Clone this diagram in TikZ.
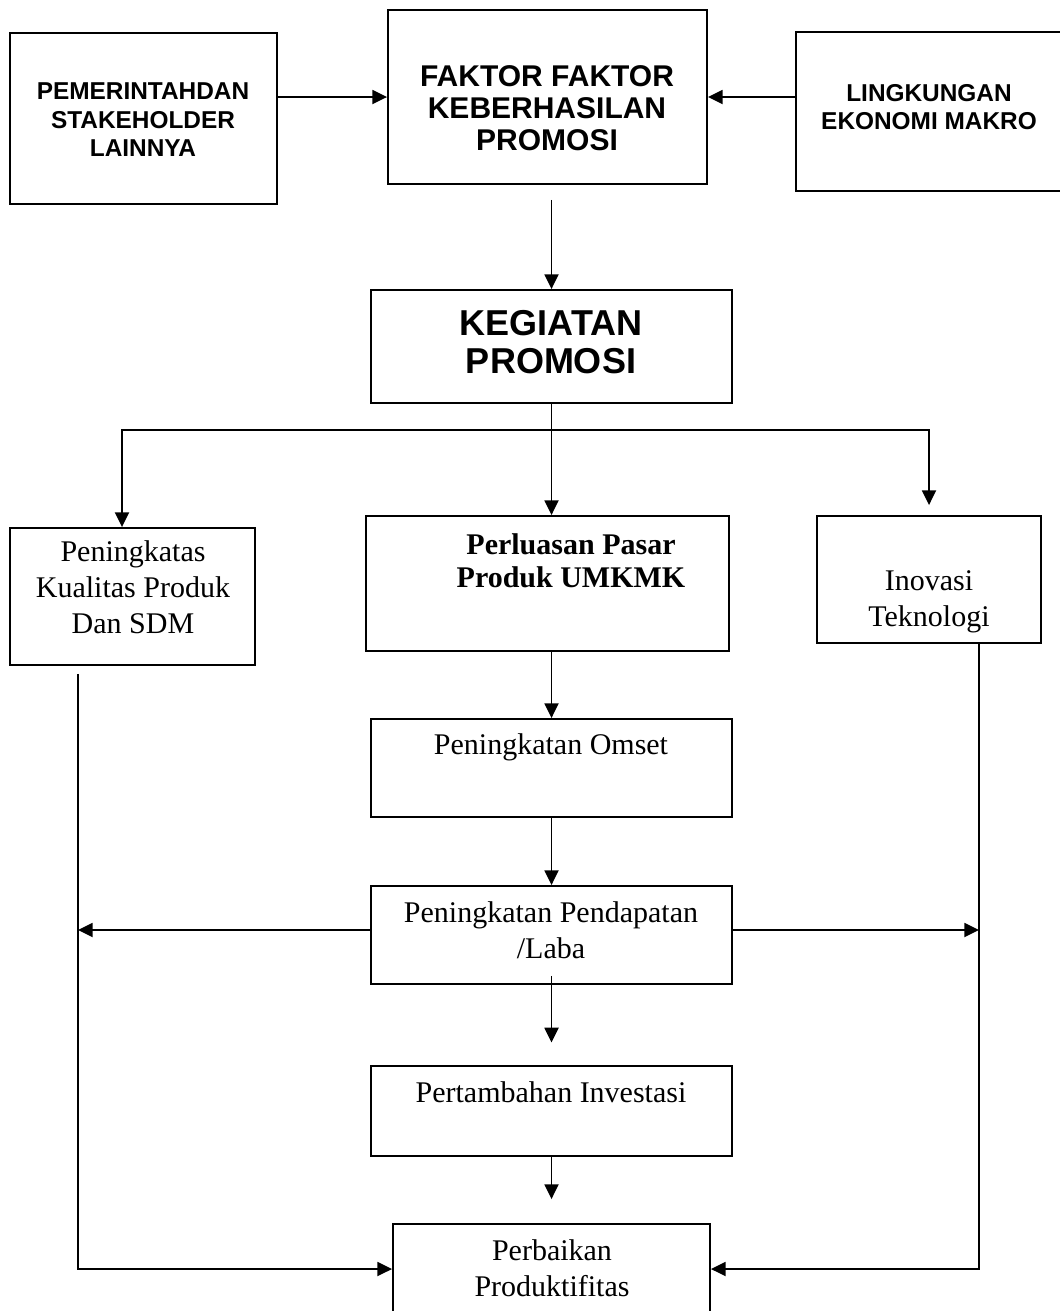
\documentclass[tikz,border=0pt]{standalone}
\usepackage{fontspec}
\setmainfont{Liberation Serif}
\setsansfont{Liberation Sans}
\usetikzlibrary{positioning,arrows.meta,fit,calc}

\begin{document}
\begin{tikzpicture}[
  x=0.75pt, y=-0.75pt,
  box/.style={rectangle, draw, line width=1.4pt, inner sep=0pt},
  hdr/.style={font=\sffamily\bfseries\fontsize{18.3}{21.4}\selectfont, align=center},
  hdrbig/.style={font=\sffamily\bfseries\fontsize{22.5}{24}\selectfont, align=center},
  hdrkeg/.style={font=\sffamily\bfseries\fontsize{27}{28.5}\selectfont, align=center},
  lbl/.style={font=\fontsize{22.5}{27}\selectfont, align=center},
  lblb/.style={font=\bfseries\fontsize{22.5}{25}\selectfont, align=center},
  arr/.style={-{Triangle[length=11pt,width=10.5pt]}, line width=1.4pt},
  ln/.style={line width=1.4pt, line cap=rect}
]
\useasboundingbox[fill=white] (0,0) rectangle (1060,1311);

% top row
\node[box, fit={(10,33) (277,204)}] (pem) {};
\node[box, fit={(388,10) (707,184)}] (fak) {};
\node[box, fit={(796,32) (1066,191)}] (lin) {};
\node[hdr] (pemT) at (143,120) {PEMERINTAHDAN\\STAKEHOLDER\\LAINNYA};
\node[hdrbig] (fakT) at (547,108) {FAKTOR FAKTOR\\KEBERHASILAN\\PROMOSI};
\node[hdr] (linT) at (929,107) {LINGKUNGAN\\EKONOMI MAKRO};

\node[box, fit={(371,290) (732,403)}] (keg) {};
\node[hdrkeg] (kegT) at (551,342) {KEGIATAN\\PROMOSI};

% three branches
\node[box, fit={(10,528) (255,665)}] (kual) {};
\node[box, fit={(366,516) (729,651)}] (luas) {};
\node[box, fit={(817,516) (1041,643)}] (ino) {};
\node[lbl] (kualT) at (133,587) {Peningkatas\\Kualitas Produk\\Dan SDM};
\node[lblb] (luasT) at (571,561) {Perluasan Pasar\\Produk UMKMK};
\node[lbl] (inoT) at (929,602) {Inovasi\\Teknologi};

% middle chain
\node[box, fit={(371,719) (732,817)}] (oms) {};
\node[box, fit={(371,886) (732,984)}] (pend) {};
\node[box, fit={(371,1066) (732,1156)}] (inv) {};
\node[box, fit={(393,1224) (710,1314)}] (perb) {};
\node[lbl] (omsT) at (551,747) {Peningkatan Omset};
\node[lbl] (pendT) at (551,930) {Peningkatan Pendapatan\\/Laba};
\node[lbl] (invT) at (551,1092) {Pertambahan Investasi};
\node[lbl] (perbT) at (552,1268) {Perbaikan\\Produktifitas};

\coordinate (split) at ($(keg.south)+(0,27)$);
\coordinate (brL) at (122,430);
\coordinate (brR) at (929,430);
\coordinate (railL) at (78,1269);
\coordinate (railR) at (979,1269);

\draw[arr] (pem.east |- fak.west) -- (fak.west);
\draw[arr] (lin.west |- fak.east) -- (fak.east);
\draw[arr] ($(keg.north |- fak.south)+(0,15)$) -- (keg.north);

\draw[ln] (keg.south) -- (split);
\draw[ln] (brL) -- (brR);
\draw[arr] (brL) -- (brL |- kual.north);
\draw[arr] (split) -- (split |- luas.north);
\draw[arr, shorten >=7.5pt] (brR) -- (brR |- ino.north);

\draw[arr] (luas.south -| split) -- (oms.north);
\draw[arr] (oms.south) -- (pend.north);
\draw[arr, shorten >=17pt] ([yshift=6.75pt]pend.south) -- (inv.north);
\draw[arr, shorten >=18pt] (inv.south) -- (perb.north);

\draw[arr] ([yshift=3.75pt]pend.west) -- ([yshift=3.75pt]pend.west -| railL);
\draw[arr] ([yshift=3.75pt]pend.east) -- ([yshift=3.75pt]pend.east -| railR);
\draw[arr] ($(railL |- kual.south)+(0,8)$) -- (railL) -- (perb.west);
\draw[arr] (railR |- ino.south) -- (railR) -- (perb.east);

\end{tikzpicture}
\end{document}
